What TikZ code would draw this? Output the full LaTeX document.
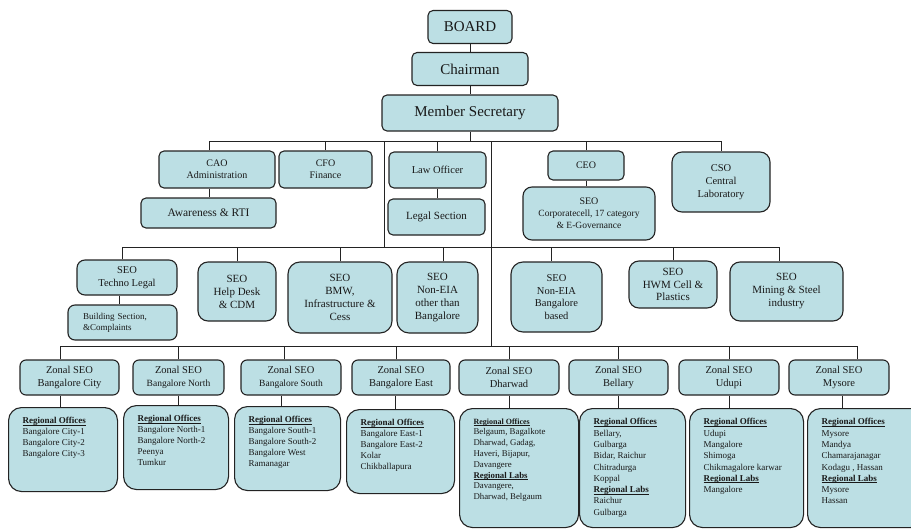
\documentclass[tikz,border=0pt]{standalone}
\usepackage{fontspec}
\setmainfont{Liberation Serif}
\usetikzlibrary{calc}
\definecolor{boxfill}{RGB}{188,223,228}
\definecolor{boxline}{RGB}{35,35,35}
\definecolor{txt}{RGB}{25,25,25}
\newcommand{\setfs}[2]{\fontsize{#1}{#2}\selectfont}
\newsavebox{\rhbox}
\newcommand{\rh}[1]{\leavevmode\sbox{\rhbox}{\textbf{#1}}\rlap{\rule[-1.6pt]{\wd\rhbox}{0.7pt}}\usebox{\rhbox}}
\begin{document}
\begin{tikzpicture}[x=1pt,y=-1pt,
  box/.style={draw=boxline, fill=boxfill, line width=1.1pt, rounded corners=5pt, align=center, text=txt, inner sep=1pt},
  conn/.style={draw=boxline, line width=0.9pt},
  rbox/.style={box, rounded corners=13pt, anchor=north west, inner xsep=14pt, inner ysep=10pt, align=left, font=\setfs{9}{11}}]
\useasboundingbox (0,0) rectangle (911,530);
\clip (0,0) rectangle (911,530);

% top
\node[box, minimum width=84pt, minimum height=33pt, font=\setfs{15}{17}] (board) at (470,27) {BOARD};
\node[box, minimum width=116pt, minimum height=33pt, font=\setfs{15}{17}] (chair) at (470,69) {Chairman};
\node[box, minimum width=176pt, minimum height=36pt, font=\setfs{15}{17}] (ms) at (470,113) {Member Secretary};

% row 2
\node[box, minimum width=116pt, minimum height=37pt, font=\setfs{10}{12}] (cao) at (217,169.5) {CAO\\Administration};
\node[box, minimum width=93pt, minimum height=37pt, font=\setfs{10}{12}] (cfo) at (325.5,169.5) {CFO\\Finance};
\node[box, minimum width=97pt, minimum height=36pt, font=\setfs{10.5}{12}] (law) at (437.5,170) {Law Officer};
\node[box, minimum width=97pt, minimum height=36pt, font=\setfs{11}{13}] (legal) at (436.5,217) {Legal Section};
\node[box, minimum width=76pt, minimum height=29pt, font=\setfs{10}{12}] (ceo) at (586,165.5) {CEO};
\node[box, rounded corners=9pt, minimum width=132pt, minimum height=53pt, font=\setfs{9.5}{12}] (corp) at (589,213.5) {{\setfs{10}{12}SEO}\\Corporatecell, 17 category\\\& E-Governance};
\node[box, rounded corners=10pt, minimum width=98pt, minimum height=60pt, font=\setfs{10.5}{13}] (cso) at (721,182) {CSO\\Central\\Laboratory};
\node[box, minimum width=135pt, minimum height=30pt, font=\setfs{11.5}{13}] (aware) at (208.5,213) {Awareness \& RTI};

% row 3
\node[box, rounded corners=8pt, minimum width=100pt, minimum height=35pt, font=\setfs{10.5}{12.5}] (tl) at (127,277.5) {SEO\\Techno Legal};
\node[box, rounded corners=7pt, minimum width=109pt, minimum height=35pt, font=\setfs{9}{11}, align=left, text width=79pt] (bs) at (122.5,322.5) {Building Section,\\\&Complaints};
\node[box, rounded corners=10pt, minimum width=78pt, minimum height=59pt, font=\setfs{11}{13}] (hd) at (237,291.5) {SEO\\Help Desk\\\& CDM};
\node[box, rounded corners=12pt, minimum width=104pt, minimum height=71pt, font=\setfs{11}{13}] (bmw) at (340,297.5) {SEO\\BMW,\\Infrastructure \&\\Cess};
\node[box, rounded corners=12pt, minimum width=81pt, minimum height=71pt, font=\setfs{11}{13}] (neo) at (437.5,297.5) {SEO\\Non-EIA\\other than\\Bangalore};
\node[box, rounded corners=12pt, minimum width=91pt, minimum height=70pt, font=\setfs{10.5}{12.5}] (neb) at (556.5,297) {SEO\\Non-EIA\\Bangalore\\based};
\node[box, rounded corners=10pt, minimum width=88pt, minimum height=47pt, font=\setfs{11}{12.5}] (hwm) at (673,284.5) {SEO\\HWM Cell \&\\Plastics};
\node[box, rounded corners=10pt, minimum width=113pt, minimum height=59pt, font=\setfs{11}{13}] (mng) at (786.5,291.5) {SEO\\Mining \& Steel\\industry};

% zonal row
\tikzset{zbox/.style={box, rounded corners=6pt, minimum height=35pt, font=\setfs{10.5}{13}}}
\node[zbox, minimum width=99pt] (zc) at (69.5,377.5) {Zonal SEO\\Bangalore City};
\node[zbox, minimum width=91pt] (zn) at (178.5,377.5) {Zonal SEO\\{\setfs{9.5}{12}Bangalore North}};
\node[zbox, minimum width=100pt] (zs) at (291,377.5) {Zonal SEO\\{\setfs{9.5}{12}Bangalore South}};
\node[zbox, minimum width=98pt] (ze) at (401,377.5) {Zonal SEO\\Bangalore East};
\node[zbox, minimum width=100pt] (zd) at (509,377.5) {Zonal SEO\\Dharwad};
\node[zbox, minimum width=99pt] (zb) at (618.5,377.5) {Zonal SEO\\Bellary};
\node[zbox, minimum width=100pt] (zu) at (729,377.5) {Zonal SEO\\Udupi};
\node[zbox, minimum width=100pt] (zm) at (839,377.5) {Zonal SEO\\Mysore};

% regional row
\node[rbox] (rc) at (8,407) {\parbox[t][64pt][t]{81pt}{\rh{Regional Offices}\\Bangalore City-1\\Bangalore City-2\\Bangalore City-3}};
\node[rbox] (rn) at (123,405) {\parbox[t][64pt][t]{77pt}{\rh{Regional Offices}\\Bangalore North-1\\Bangalore North-2\\Peenya\\Tumkur}};
\node[rbox] (rs) at (234,406) {\parbox[t][64pt][t]{78pt}{\rh{Regional Offices}\\Bangalore South-1\\Bangalore South-2\\Bangalore West\\Ramanagar}};
\node[rbox] (re) at (346,409) {\parbox[t][64pt][t]{80pt}{\rh{Regional Offices}\\Bangalore East-1\\Bangalore East-2\\Kolar\\Chikballapura}};
\node[rbox, font=\setfs{8.8}{10.8}] (rd) at (459,408) {\parbox[t][99pt][t]{91pt}{{\setfs{8}{10.8}\rh{Regional Offices}}\\Belgaum, Bagalkote\\Dharwad, Gadag,\\Haveri, Bijapur,\\Davangere\\\rh{Regional Labs}\\Davangere,\\Dharwad, Belgaum}};
\node[rbox, font=\setfs{9}{11.3}] (rb) at (579,408) {\parbox[t][99pt][t]{78pt}{\rh{Regional Offices}\\Bellary,\\Gulbarga\\Bidar, Raichur\\Chitradurga\\Koppal\\\rh{Regional Labs}\\Raichur\\Gulbarga}};
\node[rbox, font=\setfs{9}{11.3}] (ru) at (689,408) {\parbox[t][99pt][t]{86pt}{\rh{Regional Offices}\\Udupi\\Mangalore\\Shimoga\\Chikmagalore karwar\\\rh{Regional Labs}\\Mangalore}};
\node[rbox, font=\setfs{9}{11.3}] (rm) at (807,408) {\parbox[t][99pt][t]{88pt}{\rh{Regional Offices}\\Mysore\\Mandya\\Chamarajanagar\\Kodagu , Hassan\\\rh{Regional Labs}\\Mysore\\Hassan}};

% bars
\coordinate (b1) at (0,141);
\coordinate (b2) at (0,247);
\coordinate (b3) at (0,346);
\coordinate (t1) at (384,141);
\coordinate (t2) at (491,141);

% top connectors
\draw[conn] (board.south) -- (chair.north);
\draw[conn] (chair.south) -- (ms.north);
\draw[conn] (ms.south) -- (ms.south |- b1);
\draw[conn] ([xshift=-8pt]cao.north) |- (cso.north |- b1) -- (cso.north);
\draw[conn] (cfo.north) -- (cfo.north |- b1);
\draw[conn] (law.north) -- (law.north |- b1);
\draw[conn] (ceo.north) -- (ceo.north |- b1);
\draw[conn] ([xshift=-8pt]cao.south) -- ([xshift=-8pt]cao.south |- aware.north);
\draw[conn] (law.south) -- (law.south |- legal.north);
\draw[conn] (ceo.south) -- (ceo.south |- corp.north);
\draw[conn] (t1) -- (t1 |- b2);
\draw[conn] (t2) -- (t2 |- b3);

% row 3 connectors
\draw[conn] ([xshift=-5pt]tl.north) |- ([xshift=-7.5pt]mng.north |- b2) -- ([xshift=-7.5pt]mng.north);
\draw[conn] (hd.north) -- (hd.north |- b2);
\draw[conn] (bmw.north) -- (bmw.north |- b2);
\draw[conn] ([xshift=5.5pt]neo.north) -- ([xshift=5.5pt]neo.north |- b2);
\draw[conn] ([xshift=-5.5pt]neb.north) -- ([xshift=-5.5pt]neb.north |- b2);
\draw[conn] (hwm.north) -- (hwm.north |- b2);
\draw[conn] ([xshift=-8pt]tl.south) -- ([xshift=-8pt]tl.south |- bs.north);

% zonal connectors
\draw[conn] ([xshift=-9.5pt]zc.north) |- ([xshift=18pt]zm.north |- b3) -- ([xshift=18pt]zm.north);
\draw[conn] (zn.north) -- (zn.north |- b3);
\draw[conn] ([xshift=-7pt]zs.north) -- ([xshift=-7pt]zs.north |- b3);
\draw[conn] ([xshift=-5pt]ze.north) -- ([xshift=-5pt]ze.north |- b3);
\draw[conn] (zd.north) -- (zd.north |- b3);
\draw[conn] (zb.north) -- (zb.north |- b3);
\draw[conn] (zu.north) -- (zu.north |- b3);

% regional connectors
\draw[conn] ([xshift=-9.5pt]zc.south) -- ([xshift=-9.5pt]zc.south |- rc.north);
\draw[conn] (zn.south) -- (zn.south |- rn.north);
\draw[conn] ([xshift=-10pt]zs.south) -- ([xshift=-10pt]zs.south |- rs.north);
\draw[conn] ([xshift=-6pt]ze.south) -- ([xshift=-6pt]ze.south |- re.north);
\draw[conn] (zd.south) -- (zd.south |- rd.north);
\draw[conn] (zb.south) -- (zb.south |- rb.north);
\draw[conn] (zu.south) -- (zu.south |- ru.north);
\draw[conn] ([xshift=3pt]zm.south) -- ([xshift=3pt]zm.south |- rm.north);
\end{tikzpicture}
\end{document}
